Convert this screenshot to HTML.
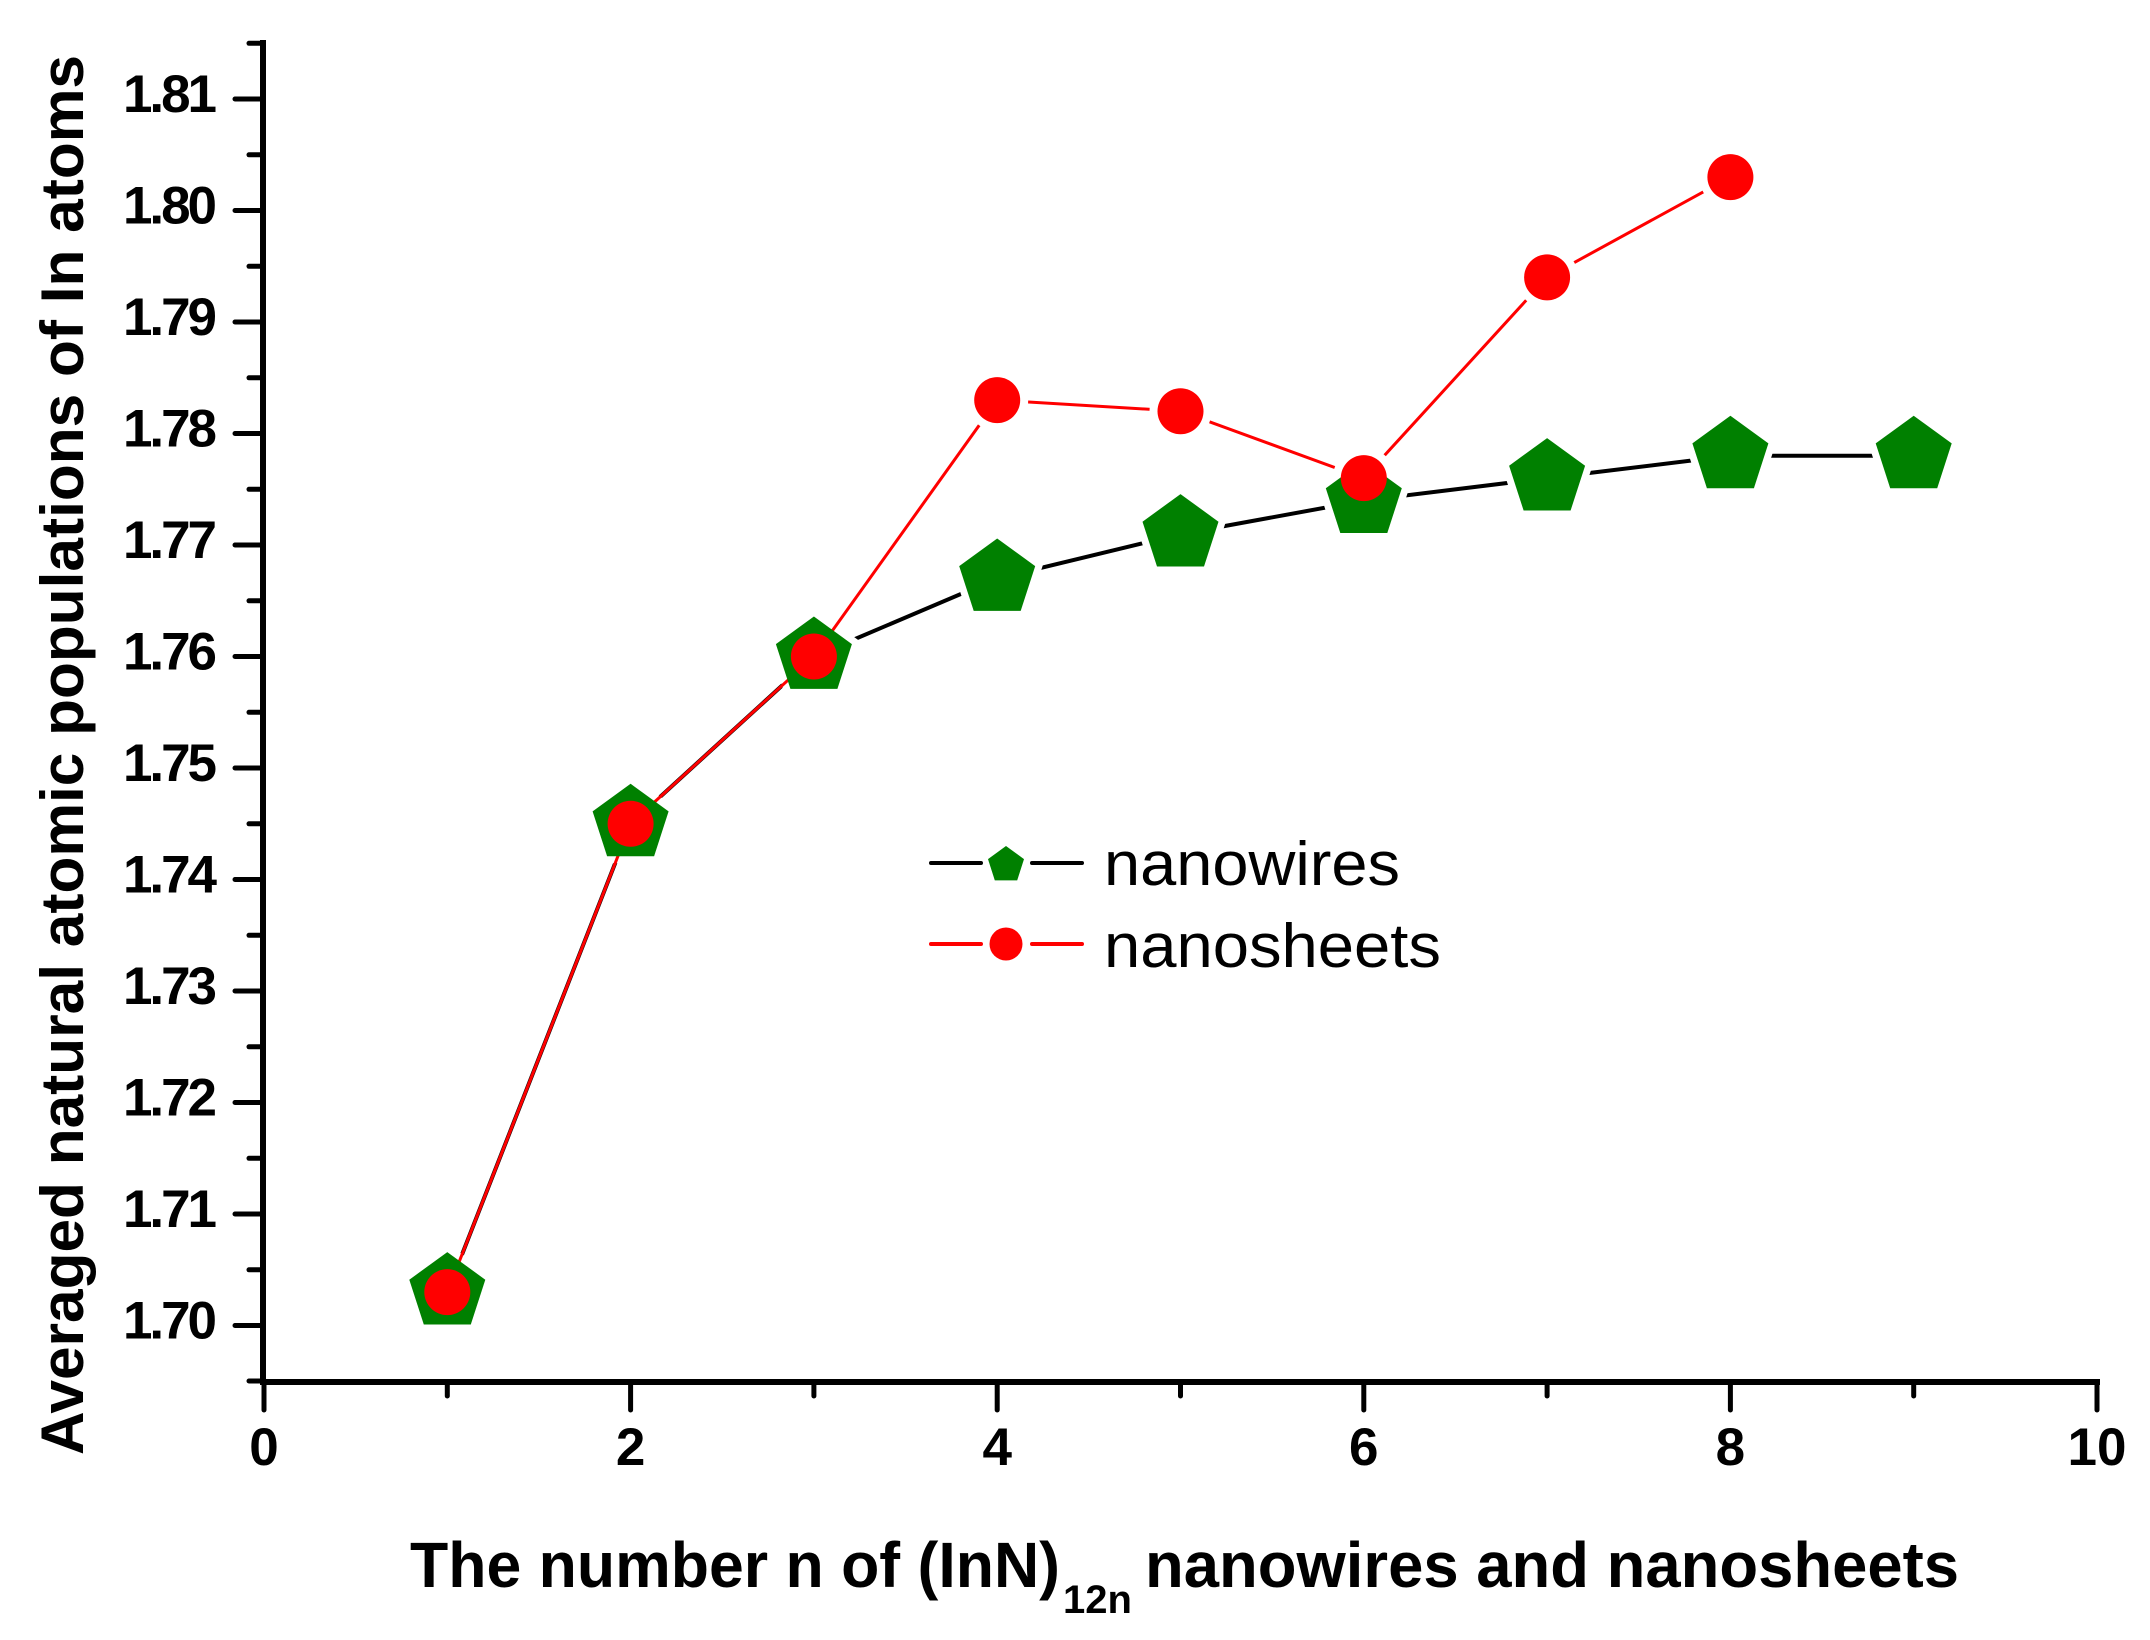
<!DOCTYPE html>
<html><head><meta charset="utf-8"><style>html,body{margin:0;padding:0;background:#fff}svg{display:block}</style></head>
<body>
<svg width="2150" height="1640" viewBox="0 0 2150 1640" xmlns="http://www.w3.org/2000/svg" font-family="Liberation Sans, Arial, sans-serif">
<defs>
<polygon id="pent" points="0,-40 38,-12.4 23.5,32.4 -23.5,32.4 -38,-12.4"/>
<polygon id="pentS" points="0,-19 18,-5.9 11.2,15.4 -11.2,15.4 -18,-5.9"/>
<mask id="mw" maskUnits="userSpaceOnUse" x="0" y="0" width="2150" height="1640">
<rect width="2150" height="1640" fill="#fff"/>
<g fill="#000" stroke="#000" stroke-width="14">
<use href="#pent" x="447.3" y="1292.1"/><use href="#pent" x="630.6" y="823.8"/><use href="#pent" x="813.9" y="656.5"/><use href="#pent" x="997.2" y="578.5"/><use href="#pent" x="1180.5" y="534.1"/><use href="#pent" x="1363.8" y="500.6"/><use href="#pent" x="1547.1" y="478.1"/><use href="#pent" x="1730.4" y="455.8"/><use href="#pent" x="1913.7" y="455.8"/>
</g></mask>
<mask id="ms" maskUnits="userSpaceOnUse" x="0" y="0" width="2150" height="1640">
<rect width="2150" height="1640" fill="#fff"/>
<g fill="#000">
<circle cx="447.3" cy="1292.1" r="31"/><circle cx="630.6" cy="823.8" r="31"/><circle cx="813.9" cy="656.5" r="31"/><circle cx="997.2" cy="400.1" r="31"/><circle cx="1180.5" cy="411.2" r="31"/><circle cx="1363.8" cy="478.1" r="31"/><circle cx="1547.1" cy="277.4" r="31"/><circle cx="1730.4" cy="177.1" r="31"/>
</g></mask>
</defs>
<!-- axes -->
<g stroke="#000" stroke-width="6" fill="none" stroke-linecap="square">
<line x1="263" y1="43" x2="263" y2="1382"/>
<line x1="263" y1="1382" x2="2097" y2="1382"/>
</g>
<g stroke="#000" stroke-width="5" stroke-linecap="round">
<!-- y majors -->
<line x1="235" y1="99" x2="263" y2="99"/><line x1="235" y1="210.5" x2="263" y2="210.5"/><line x1="235" y1="322" x2="263" y2="322"/><line x1="235" y1="433.5" x2="263" y2="433.5"/><line x1="235" y1="545" x2="263" y2="545"/><line x1="235" y1="656.5" x2="263" y2="656.5"/><line x1="235" y1="768" x2="263" y2="768"/><line x1="235" y1="879.5" x2="263" y2="879.5"/><line x1="235" y1="991" x2="263" y2="991"/><line x1="235" y1="1102.5" x2="263" y2="1102.5"/><line x1="235" y1="1214" x2="263" y2="1214"/><line x1="235" y1="1325.5" x2="263" y2="1325.5"/>
<!-- y minors -->
<line x1="249" y1="43.3" x2="263" y2="43.3"/><line x1="249" y1="154.8" x2="263" y2="154.8"/><line x1="249" y1="266.3" x2="263" y2="266.3"/><line x1="249" y1="377.8" x2="263" y2="377.8"/><line x1="249" y1="489.3" x2="263" y2="489.3"/><line x1="249" y1="600.8" x2="263" y2="600.8"/><line x1="249" y1="712.3" x2="263" y2="712.3"/><line x1="249" y1="823.8" x2="263" y2="823.8"/><line x1="249" y1="935.3" x2="263" y2="935.3"/><line x1="249" y1="1046.8" x2="263" y2="1046.8"/><line x1="249" y1="1158.3" x2="263" y2="1158.3"/><line x1="249" y1="1269.8" x2="263" y2="1269.8"/><line x1="249" y1="1381" x2="263" y2="1381"/>
<!-- x majors -->
<line x1="264" y1="1382" x2="264" y2="1410"/><line x1="630.6" y1="1382" x2="630.6" y2="1410"/><line x1="997.2" y1="1382" x2="997.2" y2="1410"/><line x1="1363.8" y1="1382" x2="1363.8" y2="1410"/><line x1="1730.4" y1="1382" x2="1730.4" y2="1410"/><line x1="2097" y1="1382" x2="2097" y2="1410"/>
<!-- x minors -->
<line x1="447.3" y1="1382" x2="447.3" y2="1396"/><line x1="813.9" y1="1382" x2="813.9" y2="1396"/><line x1="1180.5" y1="1382" x2="1180.5" y2="1396"/><line x1="1547.1" y1="1382" x2="1547.1" y2="1396"/><line x1="1913.7" y1="1382" x2="1913.7" y2="1396"/>
</g>
<!-- y tick labels -->
<g font-size="53" font-weight="bold" text-anchor="end" fill="#000">
<text x="217" y="112" textLength="94">1.81</text><text x="217" y="223.5" textLength="94">1.80</text><text x="217" y="335" textLength="94">1.79</text><text x="217" y="446.5" textLength="94">1.78</text><text x="217" y="558" textLength="94">1.77</text><text x="217" y="669.5" textLength="94">1.76</text><text x="217" y="781" textLength="94">1.75</text><text x="217" y="892.5" textLength="94">1.74</text><text x="217" y="1004" textLength="94">1.73</text><text x="217" y="1115.5" textLength="94">1.72</text><text x="217" y="1227" textLength="94">1.71</text><text x="217" y="1338.5" textLength="94">1.70</text>
</g>
<!-- x tick labels -->
<g font-size="53" font-weight="bold" text-anchor="middle" fill="#000">
<text x="264" y="1465">0</text><text x="630.6" y="1465">2</text><text x="997.2" y="1465">4</text><text x="1363.8" y="1465">6</text><text x="1730.4" y="1465">8</text><text x="2097" y="1465">10</text>
</g>
<!-- axis titles -->
<text transform="translate(83,755) rotate(-90)" font-size="60" font-weight="bold" text-anchor="middle" textLength="1400" lengthAdjust="spacingAndGlyphs">Averaged natural atomic populations of In atoms</text>
<text x="410" y="1587" font-size="64" font-weight="bold" textLength="650" lengthAdjust="spacingAndGlyphs">The number n of (InN)</text>
<text x="1063" y="1613" font-size="40" font-weight="bold">12n</text>
<text x="1145" y="1587" font-size="64" font-weight="bold" textLength="814" lengthAdjust="spacingAndGlyphs">nanowires and nanosheets</text>
<!-- series lines -->
<polyline mask="url(#mw)" fill="none" stroke="#000" stroke-width="4" points="447.3,1292.1 630.6,823.8 813.9,656.5 997.2,578.5 1180.5,534.1 1363.8,500.6 1547.1,478.1 1730.4,455.8 1913.7,455.8"/>
<polyline mask="url(#ms)" fill="none" stroke="#f00" stroke-width="3" points="447.3,1292.1 630.6,823.8 813.9,656.5 997.2,400.1 1180.5,411.2 1363.8,478.1 1547.1,277.4 1730.4,177.1"/>
<!-- markers -->
<g fill="#008000">
<use href="#pent" x="447.3" y="1292.1"/><use href="#pent" x="630.6" y="823.8"/><use href="#pent" x="813.9" y="656.5"/><use href="#pent" x="997.2" y="578.5"/><use href="#pent" x="1180.5" y="534.1"/><use href="#pent" x="1363.8" y="500.6"/><use href="#pent" x="1547.1" y="478.1"/><use href="#pent" x="1730.4" y="455.8"/><use href="#pent" x="1913.7" y="455.8"/>
</g>
<g fill="#f00">
<circle cx="447.3" cy="1292.1" r="23"/><circle cx="630.6" cy="823.8" r="23"/><circle cx="813.9" cy="656.5" r="23"/><circle cx="997.2" cy="400.1" r="23"/><circle cx="1180.5" cy="411.2" r="23"/><circle cx="1363.8" cy="478.1" r="23"/><circle cx="1547.1" cy="277.4" r="23"/><circle cx="1730.4" cy="177.1" r="23"/>
</g>
<!-- legend -->
<g stroke-width="4" stroke-linecap="round">
<line x1="931" y1="863" x2="981" y2="863" stroke="#000"/><line x1="1032" y1="863" x2="1082" y2="863" stroke="#000"/>
<line x1="931" y1="944" x2="981" y2="944" stroke="#f00"/><line x1="1032" y1="944" x2="1082" y2="944" stroke="#f00"/>
</g>
<use href="#pentS" x="1006" y="865" fill="#008000"/>
<circle cx="1006" cy="944" r="16.5" fill="#f00"/>
<text x="1104" y="885" font-size="62" textLength="296" lengthAdjust="spacingAndGlyphs">nanowires</text>
<text x="1104" y="967" font-size="62" textLength="337" lengthAdjust="spacingAndGlyphs">nanosheets</text>
</svg>
</body></html>
